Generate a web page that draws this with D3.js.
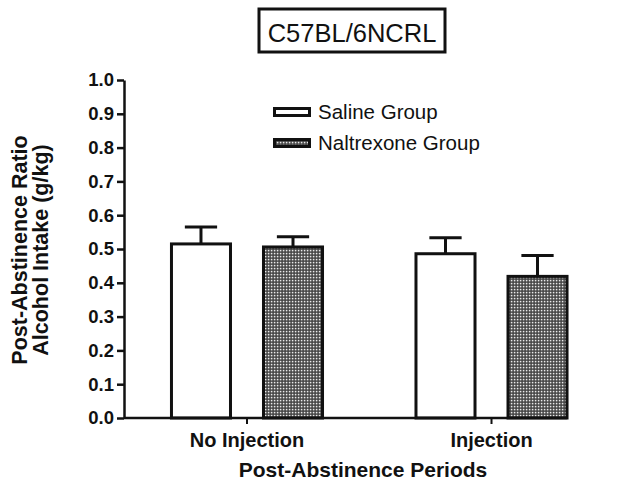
<!DOCTYPE html>
<html><head><meta charset="utf-8">
<script src="https://cdn.jsdelivr.net/npm/d3@7"></script>
<style>body{margin:0;background:#fff}svg{display:block}text{font-family:"Liberation Sans",Arial,sans-serif;fill:#111}</style>
</head><body><svg id="c" width="622" height="486"></svg>
<script>
const title = "C57BL/6NCRL";
const categories = ["No Injection", "Injection"];
const groups = ["Saline Group", "Naltrexone Group"];
const salineMeans = [0.515, 0.486];
const salineErr = [0.050, 0.047];
const naltrexoneMeans = [0.506, 0.419];
const naltrexoneErr = [0.030, 0.062];
const yTicks = [0,0.1,0.2,0.3,0.4,0.5,0.6,0.7,0.8,0.9,1.0];
const yLabel = ["Post-Abstinence Ratio", "Alcohol Intake (g/kg)"];
const xLabel = "Post-Abstinence Periods";

const svg = d3.select("#c");
const defs = svg.append("defs");
const pat = defs.append("pattern").attr("id","dots").attr("patternUnits","userSpaceOnUse").attr("width",3).attr("height",3);
pat.append("rect").attr("width",3).attr("height",3).attr("fill","#404040");
pat.append("rect").attr("x",0.8).attr("y",0.8).attr("width",1.6).attr("height",1.6).attr("fill","#eaeaea");

const mLeft = 124, mAxisEnd = 567, mTop = 80, mBottom = 418;
const x0 = d3.scaleBand().domain(categories).range([mLeft, 614.5]).paddingInner(0.37).paddingOuter(0.188);
const x1 = d3.scaleBand().domain(groups).range([0, x0.bandwidth()]).paddingInner(0.326);
const y = d3.scaleLinear().domain([0,1]).range([mBottom, mTop]);

const data = [];
categories.forEach((c,i)=>{
  data.push({cat:c, grp:groups[0], v:salineMeans[i], e:salineErr[i]});
  data.push({cat:c, grp:groups[1], v:naltrexoneMeans[i], e:naltrexoneErr[i]});
});
const fillFor = g => g===groups[0] ? "#fff" : "url(#dots)";

// error bars
const eb = svg.append("g");
data.forEach(d=>{
  const cx = x0(d.cat)+x1(d.grp)+x1.bandwidth()/2;
  const w = x1.bandwidth()*0.52;
  eb.append("line").attr("x1",cx).attr("x2",cx).attr("y1",y(d.v)).attr("y2",y(d.v+d.e)).attr("stroke","#111").attr("stroke-width",3);
  eb.append("line").attr("x1",cx-w/2).attr("x2",cx+w/2).attr("y1",y(d.v+d.e)).attr("y2",y(d.v+d.e)).attr("stroke","#111").attr("stroke-width",3);
});
// bars
svg.append("g").selectAll("rect").data(data).join("rect")
  .attr("x",d=>x0(d.cat)+x1(d.grp)+1.5)
  .attr("width",x1.bandwidth()-3)
  .attr("y",d=>y(d.v))
  .attr("height",d=>y(0)-y(d.v))
  .attr("fill",d=>fillFor(d.grp))
  .attr("stroke","#111").attr("stroke-width",3);

// y axis
const ya = svg.append("g").attr("transform",`translate(${mLeft},0)`)
  .call(d3.axisLeft(y).tickValues(yTicks).tickFormat(d3.format(".1f")).tickSize(7).tickSizeOuter(0));
ya.select(".domain").attr("stroke","#111").attr("stroke-width",2.5);
ya.selectAll(".tick line").attr("stroke","#111").attr("stroke-width",2.5);
ya.selectAll(".tick text").attr("font-size",18.5).attr("font-weight","bold").attr("x",-10).attr("fill","#222");

// x axis
const xa = svg.append("g").attr("transform",`translate(0,${mBottom})`)
  .call(d3.axisBottom(x0).tickSize(6).tickSizeOuter(0));
xa.select(".domain").attr("d",`M${mLeft},0H${mAxisEnd}`).attr("stroke","#111").attr("stroke-width",2.5);
xa.selectAll(".tick line").attr("stroke","#111").attr("stroke-width",2);
xa.selectAll(".tick text").attr("font-size",20).attr("font-weight","bold").attr("y",15).attr("fill","#222");

// x label
svg.append("text").attr("x",363).attr("y",477).attr("text-anchor","middle").attr("font-size",21).attr("font-weight","bold").text(xLabel);
// y label
const yl = svg.append("text").attr("transform","translate(0,250) rotate(-90)").attr("text-anchor","middle").attr("font-size",21.5).attr("font-weight","bold");
yl.append("tspan").attr("x",0).attr("y",27).text(yLabel[0]);
yl.append("tspan").attr("x",0).attr("y",48).text(yLabel[1]);

// title box
svg.append("rect").attr("x",259).attr("y",9).attr("width",186).attr("height",43).attr("fill","#fff").attr("stroke","#111").attr("stroke-width",3);
svg.append("text").attr("x",352).attr("y",42).attr("text-anchor","middle").attr("font-size",25.5).text(title);

// legend
const lg = svg.append("g");
groups.forEach((g,i)=>{
  const yy = 108.5 + i*31;
  lg.append("rect").attr("x",274.5).attr("y",yy).attr("width",35).attr("height",7).attr("fill",fillFor(g)).attr("stroke","#111").attr("stroke-width",3);
  lg.append("text").attr("x",318).attr("y",yy+10.5).attr("font-size",20.5).text(g);
});
</script></body></html>
